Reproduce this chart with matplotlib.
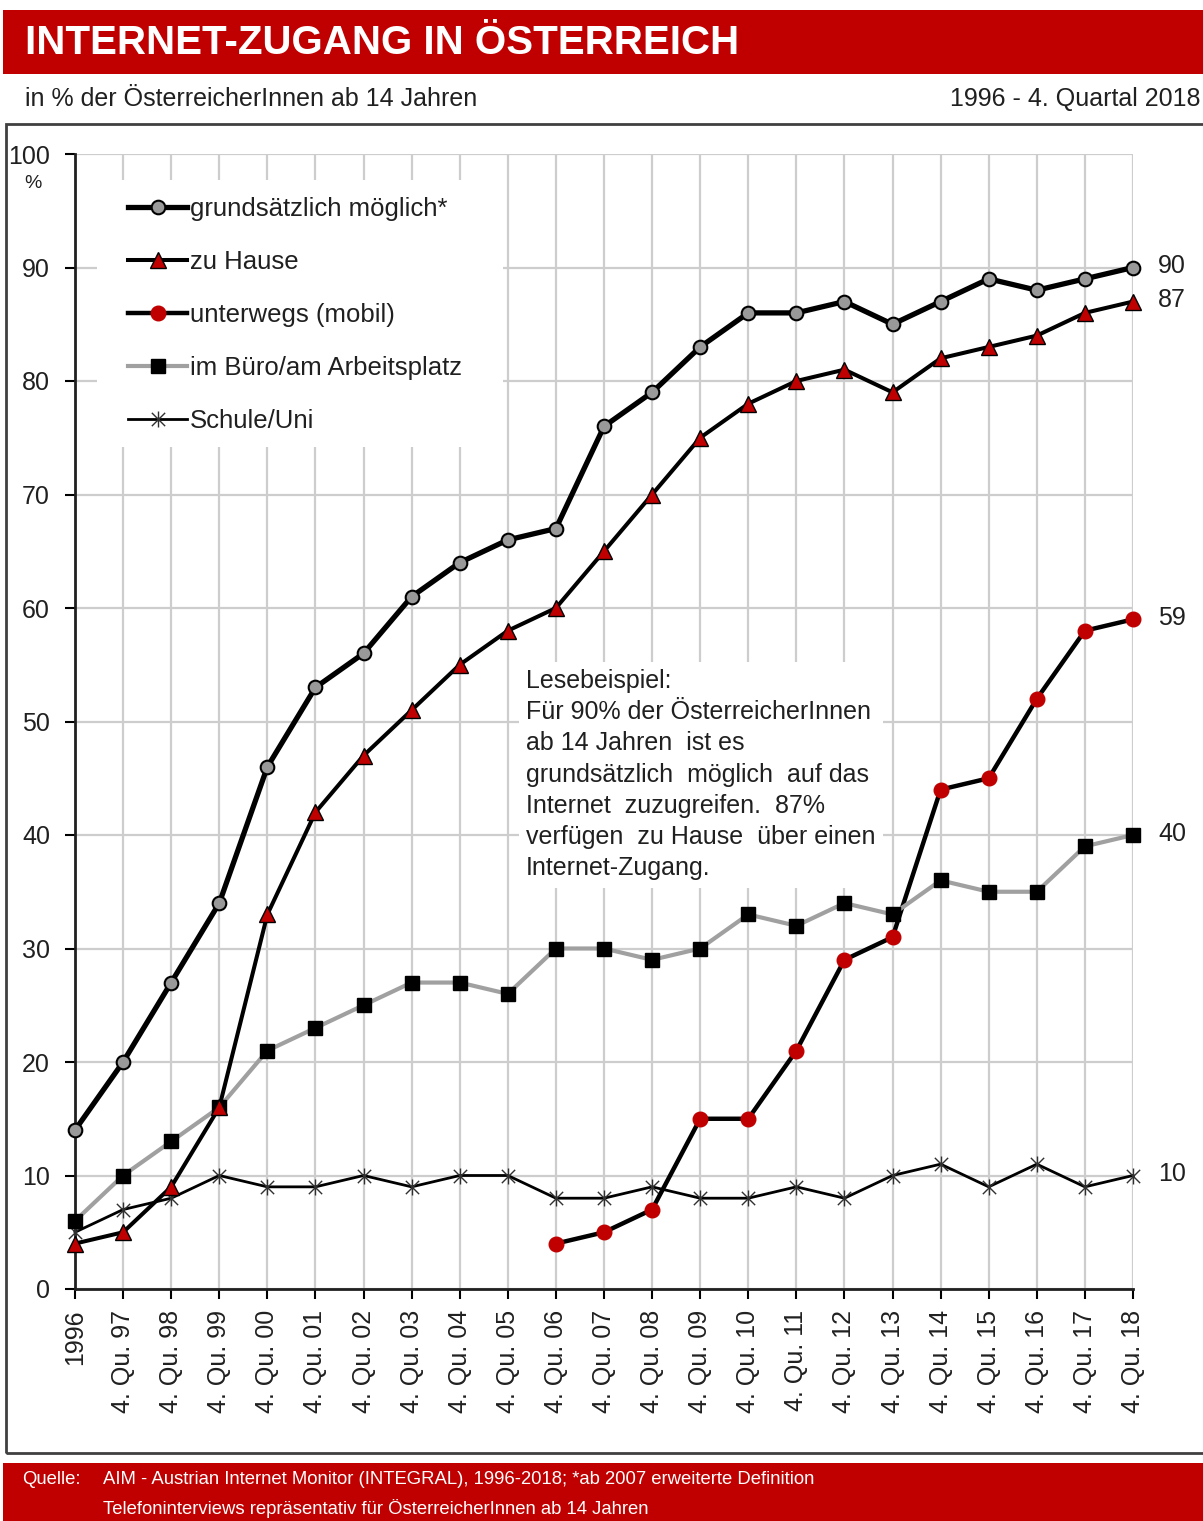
import matplotlib
matplotlib.use("Agg")
import matplotlib.pyplot as plt
import numpy as np
from matplotlib.patches import Rectangle
from matplotlib.path import Path
from matplotlib import font_manager

# ---------------- data ----------------
categories = ["1996", "4. Qu. 97", "4. Qu. 98", "4. Qu. 99", "4. Qu. 00", "4. Qu. 01",
              "4. Qu. 02", "4. Qu. 03", "4. Qu. 04", "4. Qu. 05", "4. Qu. 06", "4. Qu. 07",
              "4. Qu. 08", "4. Qu. 09", "4. Qu. 10", "4. Qu. 11", "4. Qu. 12", "4. Qu. 13",
              "4. Qu. 14", "4. Qu. 15", "4. Qu. 16", "4. Qu. 17", "4. Qu. 18"]
grundsaetzlich = [14, 20, 27, 34, 46, 53, 56, 61, 64, 66, 67, 76, 79, 83, 86, 86, 87, 85, 87, 89, 88, 89, 90]
zu_hause = [4, 5, 9, 16, 33, 42, 47, 51, 55, 58, 60, 65, 70, 75, 78, 80, 81, 79, 82, 83, 84, 86, 87]
unterwegs = [np.nan] * 10 + [4, 5, 7, 15, 15, 21, 29, 31, 44, 45, 52, 58, 59]
buero = [6, 10, 13, 16, 21, 23, 25, 27, 27, 26, 30, 30, 29, 30, 33, 32, 34, 33, 36, 35, 35, 39, 40]
schule = [5, 7, 8, 10, 9, 9, 10, 9, 10, 10, 8, 8, 9, 8, 8, 9, 8, 10, 11, 9, 11, 9, 10]
series_labels = ["grundsätzlich möglich*", "zu Hause", "unterwegs (mobil)",
                 "im Büro/am Arbeitsplatz", "Schule/Uni"]
yticks = list(range(0, 101, 10))

title = "INTERNET-ZUGANG IN ÖSTERREICH"
subtitle_left = "in % der ÖsterreicherInnen ab 14 Jahren"
subtitle_right = "1996 - 4. Quartal 2018"
note = ("Lesebeispiel:\nFür 90% der ÖsterreicherInnen\nab 14 Jahren  ist es\n"
        "grundsätzlich  möglich  auf das\nInternet  zuzugreifen.  87%\n"
        "verfügen  zu Hause  über einen\nInternet-Zugang.")
source_label = "Quelle:"
source_lines = ["AIM - Austrian Internet Monitor (INTEGRAL), 1996-2018; *ab 2007 erweiterte Definition",
                "Telefoninterviews repräsentativ für ÖsterreicherInnen ab 14 Jahren"]

# ---------------- setup ----------------
names = {f.name for f in font_manager.fontManager.ttflist}
base = "Liberation Sans" if "Liberation Sans" in names else "DejaVu Sans"
plt.rcParams["font.family"] = [base, "DejaVu Sans"]

W, H = 1203, 1521
fig = plt.figure(figsize=(W / 100, H / 100), dpi=100)
fig.patch.set_facecolor("white")

def fx(px):
    return px / W

def fy(py):
    return 1 - py / H

RED = "#C00000"
TXT = "#202020"

# title band
fig.patches.append(Rectangle((fx(3), fy(74)), 1, (74 - 10) / H, transform=fig.transFigure,
                             facecolor=RED, edgecolor="none", zorder=0))
fig.text(fx(25), fy(43), title, color="white", fontsize=29, fontweight="bold",
         ha="left", va="center")
fig.text(fx(25), fy(99), subtitle_left, color=TXT, fontsize=18, ha="left", va="center")
fig.text(fx(1200), fy(99), subtitle_right, color=TXT, fontsize=18, ha="right", va="center")

# chart frame
fig.patches.append(Rectangle((fx(6), fy(1453)), 1, (1453 - 124) / H, transform=fig.transFigure,
                             facecolor="none", edgecolor="#404040", linewidth=2, zorder=0))

# footer band
fig.patches.append(Rectangle((fx(3), 0), 1, (1521 - 1463) / H, transform=fig.transFigure,
                             facecolor=RED, edgecolor="none", zorder=0))
fig.text(fx(22), fy(1480), source_label, color="white", fontsize=13.3, ha="left", va="center")
fig.text(fx(103), fy(1480), source_lines[0], color="white", fontsize=13.3, ha="left", va="center")
fig.text(fx(103), fy(1508), source_lines[1], color="white", fontsize=13.3, ha="left", va="center")

# axes
ax = fig.add_axes([fx(75), fy(1289), (1133 - 75) / W, (1289 - 154) / H])
x = np.arange(len(categories))
ax.set_xlim(0, len(categories) - 1)
ax.set_ylim(0, 100)
ax.set_yticks(yticks)
ax.set_xticks(x)
ax.set_xticklabels(categories, rotation=90, fontsize=18, color=TXT)
ax.tick_params(axis="y", labelsize=18, labelcolor=TXT, length=7, width=1.5, pad=11)
ax.tick_params(axis="x", length=7, width=1.5, pad=8)
ax.grid(True, color="#CDCDCD", linewidth=1.6, zorder=0)
ax.set_axisbelow(True)
for s in ["top", "right"]:
    ax.spines[s].set_visible(False)
for s in ["left", "bottom"]:
    ax.spines[s].set_linewidth(2)
    ax.spines[s].set_color(TXT)

fig.text(fx(33), fy(184), "%", fontsize=14, ha="center", va="center", color=TXT)

# white legend background covering the grid
ax.add_patch(Rectangle((fx(97), fy(447)), (503 - 97) / W, (447 - 180) / H,
                       transform=fig.transFigure, facecolor="white", edgecolor="none",
                       zorder=1, clip_on=False))

star = Path([(-1, -1), (1, 1), (-1, 1), (1, -1), (0, -1.2), (0, 1.2)],
            [Path.MOVETO, Path.LINETO, Path.MOVETO, Path.LINETO, Path.MOVETO, Path.LINETO])

h_sch, = ax.plot(x, schule, color="black", linewidth=2.0, marker=star, markersize=11.5,
                 markeredgewidth=1.0, markerfacecolor="none", markeredgecolor="#303030",
                 zorder=3, clip_on=False)
h_un, = ax.plot(x, unterwegs, color="black", linewidth=3.2, marker="o", markersize=10.5,
                markerfacecolor=RED, markeredgecolor=RED, zorder=4, clip_on=False)
h_bu, = ax.plot(x, buero, color="#A0A0A0", linewidth=3.0, marker="s", markersize=10.3,
                markerfacecolor="black", markeredgecolor="black", zorder=5, clip_on=False)
h_zh, = ax.plot(x, zu_hause, color="black", linewidth=2.9, marker="^", markersize=12,
                markerfacecolor=RED, markeredgecolor="black", markeredgewidth=1.0,
                zorder=6, clip_on=False)
h_gr, = ax.plot(x, grundsaetzlich, color="black", linewidth=3.8, marker="o", markersize=9.8,
                markerfacecolor="#999999", markeredgecolor="black", markeredgewidth=1.5,
                zorder=7, clip_on=False)

leg = ax.legend([h_gr, h_zh, h_un, h_bu, h_sch], series_labels, loc="upper left",
                bbox_to_anchor=(fx(128), fy(197)), bbox_transform=fig.transFigure,
                frameon=False, fontsize=18.5, handlelength=2.3, handletextpad=0.1,
                labelspacing=1.13, borderpad=0, borderaxespad=0, numpoints=1)
for t in leg.get_texts():
    t.set_color(TXT)

# end labels
for series in [grundsaetzlich, zu_hause, unterwegs, buero, schule]:
    v = series[-1]
    ax.annotate(f"{v:.0f}", xy=(x[-1], v), xytext=(18, 1), textcoords="offset points",
                ha="left", va="center", fontsize=18, color=TXT, annotation_clip=False)

# reading example box
fig.text(fx(526), fy(669), note, fontsize=18, ha="left", va="top", color=TXT,
         linespacing=1.38,
         bbox=dict(facecolor="white", edgecolor="none", boxstyle="square,pad=0.3"),
         zorder=2)

fig.savefig("out.png", dpi=100, facecolor="white")
